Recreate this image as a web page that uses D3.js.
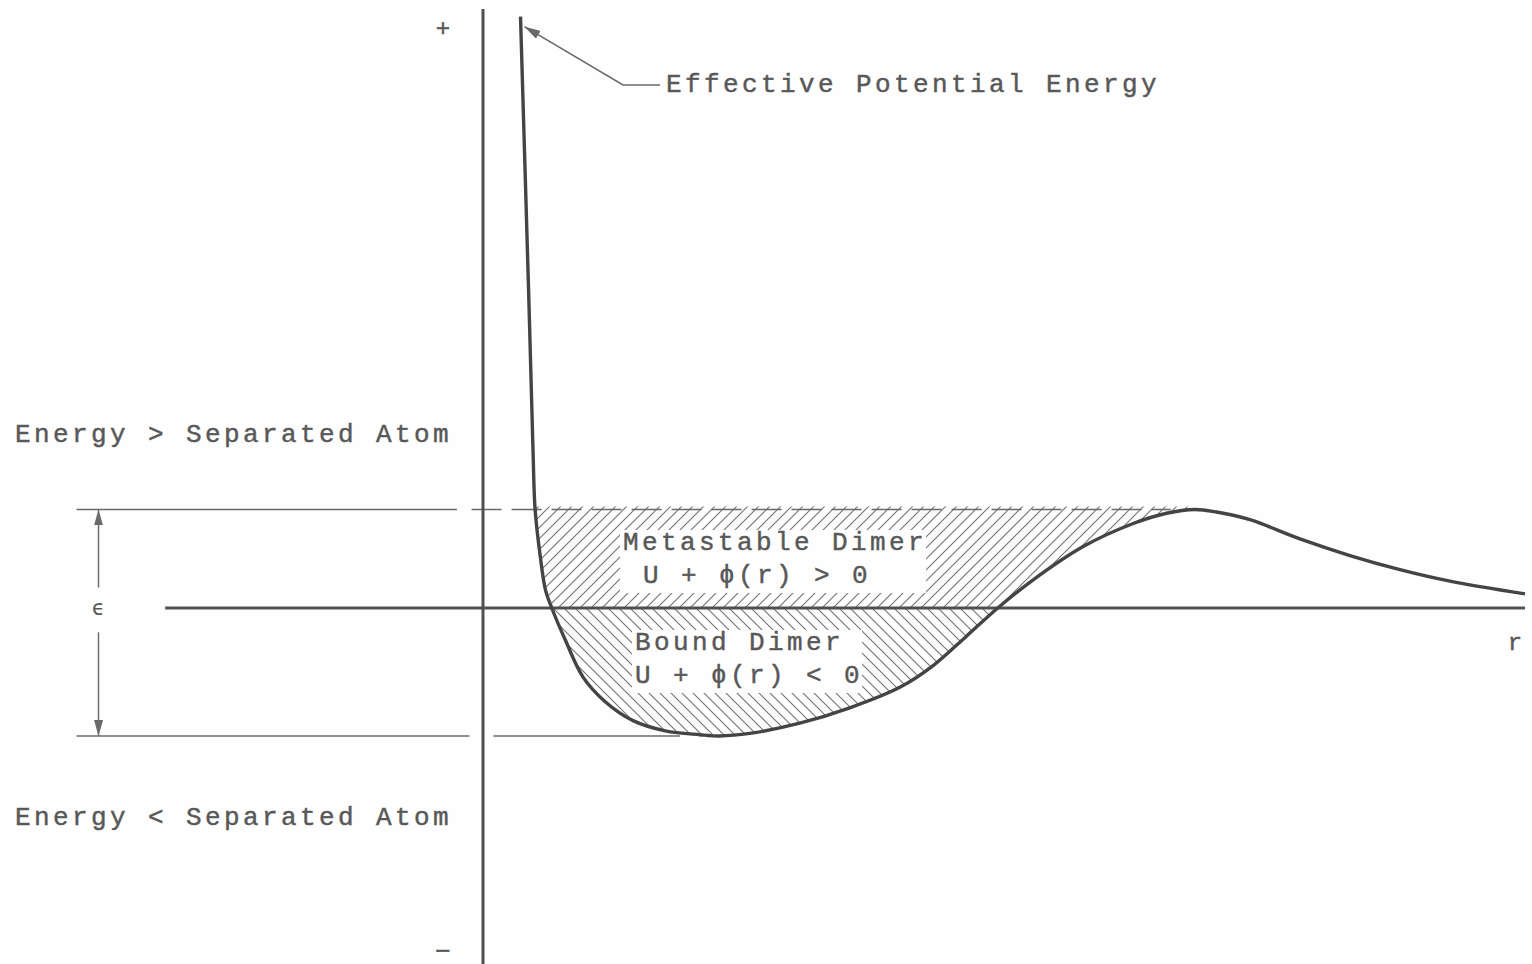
<!DOCTYPE html>
<html>
<head>
<meta charset="utf-8">
<script src="https://cdn.jsdelivr.net/npm/d3@7"></script>
<style>
  body { margin: 0; background: #fff; }
  svg { display: block; }
</style>
</head>
<body>
<div id="canvas"></div>
<script>
// Dimension and color constants.
const WIDTH = 1532;
const HEIGHT = 964;

const CURVE_COLOR = "rgb(68, 68, 68)";
const AXIS_COLOR = "rgb(80, 80, 80)";
const THIN_COLOR = "rgb(105, 105, 105)";
const HATCH_COLOR = "rgb(115, 115, 115)";
const TEXT_COLOR = "rgb(88, 88, 88)";
const FONT = "'Liberation Mono', 'DejaVu Sans Mono', monospace";

// Effective potential energy curve: separation r and energy (in units of the well depth).
const rValues = [0.36, 0.44, 0.48, 0.50, 0.55, 0.60, 0.66, 0.79, 0.96, 1.17, 1.44, 1.75, 2.08, 2.27,
                 2.56, 3.04, 3.52, 4.00, 4.32, 4.64, 4.94, 5.28, 5.76, 6.24, 6.56, 6.83, 7.04, 7.36,
                 7.84, 8.32, 8.80, 9.28, 10.00];
const energyValues = [4.62, 2.41, 1.23, 0.77, 0.40, 0.14, 0.00, -0.25, -0.54, -0.73, -0.88, -0.96, -0.99, -1.00,
                      -0.98, -0.90, -0.78, -0.62, -0.45, -0.22, 0.00, 0.22, 0.48, 0.66, 0.74, 0.77, 0.75, 0.69,
                      0.54, 0.41, 0.30, 0.21, 0.11];

// Energy levels and extents of the axes, in data units.
const barrierEnergy = 0.77;
const wellEnergy = -1;
const barrierR = 6.83;
const rAxisExtent = [-3.05, 10];
const energyAxisExtent = [-2.8, 4.68];

// Text labels.
const curveLabel = "Effective Potential Energy";
const upperSideLabel = "Energy > Separated Atom";
const lowerSideLabel = "Energy < Separated Atom";
const metastableLabels = ["Metastable Dimer", "U + \u03D5(r) > 0"];
const boundLabels = ["Bound Dimer", "U + \u03D5(r) < 0"];
const epsilonLabel = "\u03F5";
const rLabel = "r";
const plusLabel = "+";
const minusLabel = "\u2212";

const points = rValues.map((r, i) => ({ r: r, e: energyValues[i] }));

const svg = d3.select("#canvas")
                .append("svg")
                .attr("width", WIDTH)
                .attr("height", HEIGHT);

svg.append("rect")
    .attr("width", WIDTH)
    .attr("height", HEIGHT)
    .attr("fill", "#fefefe");

// The x and y scales.
const xScale = d3.scaleLinear()
                    .domain([0, 10])
                    .range([483, 1525]);
const yScale = d3.scaleLinear()
                    .domain([wellEnergy, 0])
                    .range([736, 608]);

const line = d3.line()
                .x(d => xScale(d.r))
                .y(d => yScale(d.e))
                .curve(d3.curveCatmullRom.alpha(0.5));

const defs = svg.append("defs");

// Hatch patterns: "/" for the metastable region, "\" for the bound region.
defs.append("pattern")
    .attr("id", "hatchUp")
    .attr("patternUnits", "userSpaceOnUse")
    .attr("width", 11)
    .attr("height", 11)
    .append("path")
    .attr("d", "M-1,1 L1,-1 M0,11 L11,0 M10,12 L12,10")
    .attr("stroke", HATCH_COLOR)
    .attr("stroke-width", 1.1);

defs.append("pattern")
    .attr("id", "hatchDown")
    .attr("patternUnits", "userSpaceOnUse")
    .attr("width", 11)
    .attr("height", 11)
    .append("path")
    .attr("d", "M-1,10 L1,12 M0,0 L11,11 M10,-1 L12,1")
    .attr("stroke", HATCH_COLOR)
    .attr("stroke-width", 1.1);

// Everything above the curve (to the right of the repulsive wall).
defs.append("clipPath")
    .attr("id", "aboveCurve")
    .append("path")
    .attr("d", line(points)
        + `L${xScale(10)},${yScale(6)}L${xScale(rValues[0])},${yScale(6)}Z`);

// Arrowhead marker.
defs.append("marker")
    .attr("id", "arrow")
    .attr("viewBox", "0 0 16 9")
    .attr("refX", 16)
    .attr("refY", 4.5)
    .attr("markerUnits", "userSpaceOnUse")
    .attr("markerWidth", 16)
    .attr("markerHeight", 9)
    .attr("orient", "auto")
    .append("path")
    .attr("d", "M0,0 L16,4.5 L0,9 Z")
    .attr("fill", THIN_COLOR);

// Hatched regions.
const hatchGroup = svg.append("g").attr("clip-path", "url(#aboveCurve)");

hatchGroup.append("rect")
    .attr("x", xScale(0))
    .attr("y", yScale(barrierEnergy) - 3)
    .attr("width", xScale(barrierR) - xScale(0))
    .attr("height", yScale(0) - yScale(barrierEnergy) + 3)
    .attr("fill", "url(#hatchUp)");

hatchGroup.append("rect")
    .attr("x", xScale(0))
    .attr("y", yScale(0))
    .attr("width", xScale(5.5) - xScale(0))
    .attr("height", yScale(wellEnergy - 0.1) - yScale(0))
    .attr("fill", "url(#hatchDown)");

// Shared text styling.
function styleText(selection, size) {
    selection.attr("fill", TEXT_COLOR)
        .attr("stroke", TEXT_COLOR)
        .attr("stroke-width", 0.45)
        .attr("font-family", FONT)
        .attr("font-size", size)
        .attr("letter-spacing", size === 26 ? 3.4 : 0);
}

// Region labels with a white box that clears the hatching.
function drawBoxedLabel(lines, x, y, dx) {
    const group = svg.append("g");
    const box = group.append("rect").attr("fill", "#fefefe");
    lines.forEach((text, i) => {
        group.append("text")
            .attr("x", x + (i === 0 ? 0 : dx))
            .attr("y", y + i * 33)
            .call(styleText, 26)
            .text(text);
    });
    const bbox = group.node().getBBox();
    box.attr("x", bbox.x - 3)
        .attr("y", bbox.y + 2)
        .attr("width", bbox.width + 2)
        .attr("height", bbox.height);
}

drawBoxedLabel(metastableLabels, 623, 550, 20);
drawBoxedLabel(boundLabels, 635, 650, 0);

// Energy level lines: barrier top and well bottom.
svg.append("line")
    .attr("x1", xScale(-3.9))
    .attr("y1", yScale(barrierEnergy))
    .attr("x2", xScale(-0.25))
    .attr("y2", yScale(barrierEnergy))
    .attr("stroke", THIN_COLOR)
    .attr("stroke-width", 1.6);

svg.append("line")
    .attr("x1", xScale(-0.11))
    .attr("y1", yScale(barrierEnergy))
    .attr("x2", xScale(6.6))
    .attr("y2", yScale(barrierEnergy))
    .attr("stroke", THIN_COLOR)
    .attr("stroke-width", 1.6)
    .attr("stroke-dasharray", "30,10");

svg.append("line")
    .attr("x1", xScale(-3.9))
    .attr("y1", yScale(wellEnergy))
    .attr("x2", xScale(-0.13))
    .attr("y2", yScale(wellEnergy))
    .attr("stroke", THIN_COLOR)
    .attr("stroke-width", 1.6);

svg.append("line")
    .attr("x1", xScale(0.10))
    .attr("y1", yScale(wellEnergy))
    .attr("x2", xScale(1.89))
    .attr("y2", yScale(wellEnergy))
    .attr("stroke", THIN_COLOR)
    .attr("stroke-width", 1.6);

// Epsilon dimension arrow.
const epsX = xScale(-3.69);

svg.append("line")
    .attr("x1", epsX)
    .attr("y1", yScale(0.16))
    .attr("x2", epsX)
    .attr("y2", yScale(barrierEnergy))
    .attr("stroke", THIN_COLOR)
    .attr("stroke-width", 1.4)
    .attr("marker-end", "url(#arrow)");

svg.append("line")
    .attr("x1", epsX)
    .attr("y1", yScale(-0.19))
    .attr("x2", epsX)
    .attr("y2", yScale(wellEnergy))
    .attr("stroke", THIN_COLOR)
    .attr("stroke-width", 1.4)
    .attr("marker-end", "url(#arrow)");

svg.append("text")
    .attr("x", epsX)
    .attr("y", yScale(0) + 7)
    .attr("text-anchor", "middle")
    .attr("fill", TEXT_COLOR)
    .attr("font-family", "'DejaVu Sans', sans-serif")
    .attr("font-size", 21)
    .text(epsilonLabel);

// The axes.
svg.append("line")
    .attr("x1", xScale(rAxisExtent[0]))
    .attr("y1", yScale(0))
    .attr("x2", xScale(rAxisExtent[1]))
    .attr("y2", yScale(0))
    .attr("stroke", AXIS_COLOR)
    .attr("stroke-width", 3);

svg.append("line")
    .attr("x1", xScale(0))
    .attr("y1", yScale(energyAxisExtent[1]))
    .attr("x2", xScale(0))
    .attr("y2", yScale(energyAxisExtent[0]))
    .attr("stroke", AXIS_COLOR)
    .attr("stroke-width", 3);

// The potential curve.
svg.append("path")
    .datum(points)
    .attr("d", line)
    .attr("fill", "none")
    .attr("stroke", CURVE_COLOR)
    .attr("stroke-width", 3.4)
    .attr("stroke-linejoin", "round");

// Leader for the curve label.
const tipX = xScale(rValues[0]) + 4;
const tipY = yScale(energyValues[0]) + 10;

svg.append("polyline")
    .attr("points", `660,85 623,85 ${tipX},${tipY}`)
    .attr("fill", "none")
    .attr("stroke", THIN_COLOR)
    .attr("stroke-width", 1.6)
    .attr("marker-end", "url(#arrow)");

// Plain text labels.
function addText(text, x, y, size, anchor) {
    svg.append("text")
        .attr("x", x)
        .attr("y", y)
        .attr("text-anchor", anchor || "start")
        .call(styleText, size)
        .text(text);
}

addText(curveLabel, 666, 92, 26);
addText(upperSideLabel, 15, 442, 26);
addText(lowerSideLabel, 15, 825, 26);
addText(rLabel, 1515, 650, 24, "middle");
addText(plusLabel, 443, 36, 24, "middle");

svg.append("text")
    .attr("x", 443)
    .attr("y", 950)
    .attr("text-anchor", "middle")
    .attr("dominant-baseline", "central")
    .attr("fill", TEXT_COLOR)
    .attr("stroke", TEXT_COLOR)
    .attr("stroke-width", 0.6)
    .attr("font-family", "'DejaVu Sans', sans-serif")
    .attr("font-size", 20)
    .text(minusLabel);
</script>
</body>
</html>
